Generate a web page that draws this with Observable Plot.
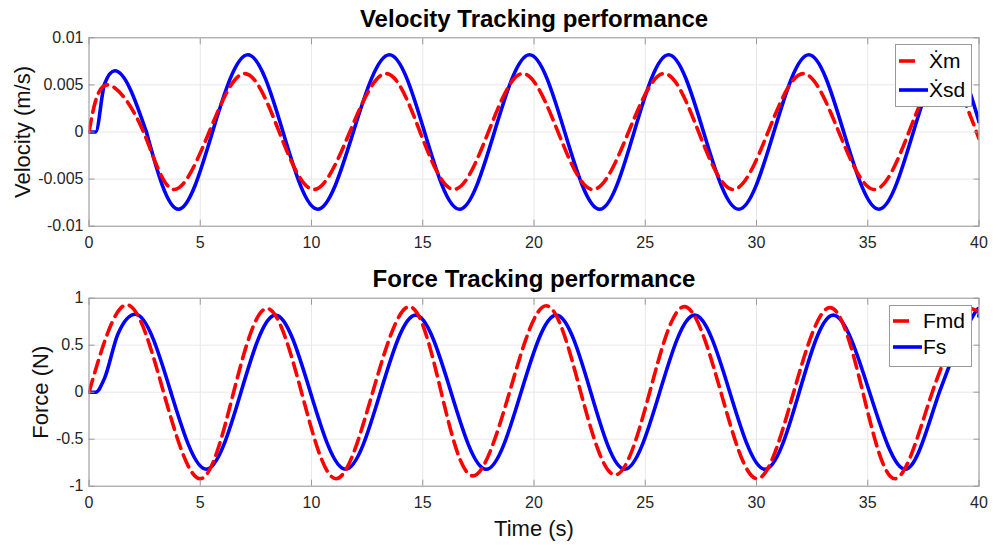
<!DOCTYPE html>
<html>
<head>
<meta charset="utf-8">
<script src="https://cdn.jsdelivr.net/npm/d3@7"></script>
<script src="https://cdn.jsdelivr.net/npm/@observablehq/plot@0.6"></script>
<style>
  body { margin: 0; background: #fff; font-family: "Liberation Sans", Arial, Helvetica, sans-serif; }
  #wrap { position: relative; width: 1003px; height: 545px; overflow: hidden; }
  #wrap svg { display: block; }
  g[aria-label="y-axis label"] text, g[aria-label="x-axis label"] text { font-size: 22px; fill: #111; }
  .legend { position: absolute; background: #fff; border: 1px solid #9a9a9a; box-sizing: border-box; }
  .legend .row { position: absolute; left: 0; width: 100%; height: 28px; }
  .legend .row svg { position: absolute; left: 0; top: 0; }
  .legend .row span { position: absolute; font-size: 21px; line-height: 28px; top: 0; color: #000; white-space: nowrap; }
</style>
</head>
<body>
<div id="wrap"></div>
<script>
// ---------- data ----------
const xTicks = [0, 5, 10, 15, 20, 25, 30, 35, 40];
const velTicks = [-0.01, -0.005, 0, 0.005, 0.01];
const forceTicks = [-1, -0.5, 0, 0.5, 1];

// Velocity: Xsd (blue, solid) — peaks, troughs and zero crossings
const xsdT = [0, 0.3, 0.7, 1.16, 2.58, 4.02, 5.55, 7.14, 8.72, 10.28, 11.88, 13.5, 15.08, 16.65, 18.22, 19.8, 21.38, 22.95, 24.5, 26.05, 27.62, 29.2, 30.78, 32.35, 33.92, 35.5, 37.05, 38.6, 40];
const xsdV = [0, 0, 0.0051, 0.0065, 0, -0.0082, 0, 0.0082, 0, -0.0082, 0, 0.0082, 0, -0.0082, 0, 0.0082, 0, -0.0082, 0, 0.0082, 0, -0.0082, 0, 0.0082, 0, -0.0082, 0, 0.0082, 0.0011];

// Velocity: Xm (red, dashed)
const xmT = [0, 0.4, 1.15, 2.45, 3.8, 5.4, 7.0, 8.55, 10.1, 11.72, 13.35, 14.88, 16.4, 17.95, 19.5, 21.08, 22.65, 24.25, 25.85, 27.4, 28.95, 30.52, 32.1, 33.7, 35.3, 36.85, 38.4, 40];
const xmV = [0, 0.004, 0.0047, 0, -0.0061, 0, 0.0062, 0, -0.0061, 0, 0.0062, 0, -0.0061, 0, 0.0062, 0, -0.0061, 0, 0.0062, 0, -0.0061, 0, 0.0062, 0, -0.0061, 0, 0.0062, -0.0007];

// Force: Fs (blue, solid)
const fsT = [0, 0.3, 0.7, 1.3, 2.08, 3.68, 5.27, 6.83, 8.38, 9.95, 11.53, 13.1, 14.68, 16.27, 17.85, 19.42, 21.0, 22.55, 24.08, 25.65, 27.22, 28.8, 30.38, 31.92, 33.45, 35.08, 36.7, 38.22, 39.75, 40];
const fsV = [0, 0, 0.15, 0.62, 0.83, 0, -0.82, 0, 0.82, 0, -0.82, 0, 0.82, 0, -0.82, 0, 0.82, 0, -0.82, 0, 0.82, 0, -0.82, 0, 0.82, 0, -0.82, 0, 0.82, 0.81];

// Force: Fmd (red, dashed)
const fmdT = [0, 1.7, 3.35, 5.0, 6.5, 8.0, 9.55, 11.1, 12.75, 14.4, 15.83, 17.25, 18.9, 20.55, 22.1, 23.65, 25.2, 26.75, 28.4, 30.03, 31.67, 33.3, 34.78, 36.25, 37.9, 39.55, 40];
const fmdV = [0, 0.93, 0, -0.92, 0, 0.89, 0, -0.92, 0, 0.91, 0, -0.89, 0, 0.92, 0, -0.88, 0, 0.91, 0, -0.92, 0, 0.9, 0, -0.92, 0, 0.9, 0.86];

// ---------- helpers ----------
// Split a series into a start piece (indices 0..headEnd), a smooth body and an end piece (tailStart..),
// so that flat starts / the last sample do not make the smooth spline overshoot.
function rows(ts, vs, headEnd, tailStart = ts.length - 1) {
  const out = [];
  ts.forEach((t, i) => {
    if (i <= headEnd) out.push({t, v: vs[i], seg: "head"});
    if (i >= headEnd && i <= tailStart) out.push({t, v: vs[i], seg: "body"});
    if (i >= tailStart) out.push({t, v: vs[i], seg: "tail"});
  });
  return out;
}

const BLUE = "#0000ff", RED = "#ff0000", FRAME = "#9a9a9a", GRID = "#e8e8e8";
const fmt = d => String(d);

function series(data, style) {
  return [
    Plot.line(data.filter(d => d.seg === "body"), {x: "t", y: "v", curve: "natural", clip: true, ...style}),
    Plot.line(data.filter(d => d.seg !== "body"), {x: "t", y: "v", z: "seg", curve: "monotone-x", clip: true, ...style})
  ];
}

function panel({height, marginTop, marginBottom, yDomain, yTicks, yLabel, yLabelOffset, title, blue, red, xLabel, xLabelOffset}) {
  return Plot.plot({
    width: 1003,
    height,
    marginLeft: 88.5,
    marginRight: 24.5,
    marginTop,
    marginBottom,
    style: {fontFamily: "'Liberation Sans', Arial, Helvetica, sans-serif", fontSize: "16px", color: "#262626", background: "#fff"},
    x: {domain: [0, 40]},
    y: {domain: yDomain},
    marks: [
      Plot.gridX(xTicks, {stroke: GRID, strokeOpacity: 1}),
      Plot.gridY(yTicks, {stroke: GRID, strokeOpacity: 1}),
      ...series(blue, {stroke: BLUE, strokeWidth: 3.6}),
      ...series(red, {stroke: RED, strokeWidth: 3.6, strokeDasharray: "13,7"}),
      Plot.frame({stroke: FRAME}),
      Plot.axisX(xTicks, {anchor: "bottom", tickSize: -6, tickPadding: 16, stroke: FRAME, fill: "#262626", tickFormat: fmt,
        label: xLabel ?? null, labelAnchor: "center", labelOffset: xLabelOffset, labelArrow: "none"}),
      Plot.axisX(xTicks, {anchor: "top", tickSize: -6, stroke: FRAME, tickFormat: () => "", label: null}),
      Plot.axisY(yTicks, {anchor: "left", tickSize: -6, tickPadding: 11.5, stroke: FRAME, fill: "#262626", tickFormat: fmt,
        label: yLabel, labelAnchor: "center", labelOffset: yLabelOffset, labelArrow: "none"}),
      Plot.axisY(yTicks, {anchor: "right", tickSize: -6, stroke: FRAME, tickFormat: () => "", label: null}),
      Plot.text([title], {frameAnchor: "top", dy: -11, lineAnchor: "bottom", fontSize: 24, fontWeight: "bold", fill: "#000"})
    ]
  });
}

const wrap = document.getElementById("wrap");

wrap.append(panel({
  height: 255, marginTop: 37.3, marginBottom: 29.3,
  yDomain: [-0.01, 0.01], yTicks: velTicks,
  yLabel: "Velocity (m/s)", yLabelOffset: 75,
  title: "Velocity Tracking performance",
  blue: rows(xsdT, xsdV, 4), red: rows(xmT, xmV, 0)
}));

wrap.append(panel({
  height: 290, marginTop: 42.7, marginBottom: 59.3,
  yDomain: [-1, 1], yTicks: forceTicks,
  yLabel: "Force (N)", yLabelOffset: 56.5,
  title: "Force Tracking performance",
  blue: rows(fsT, fsV, 5), red: rows(fmdT, fmdV, 0, fmdT.length - 2),
  xLabel: "Time (s)", xLabelOffset: 50
}));

// ---------- legends (HTML overlays) ----------
function legend({left, top, width, height, entries}) {
  const box = document.createElement("div");
  box.className = "legend";
  Object.assign(box.style, {left: left + "px", top: top + "px", width: width + "px", height: height + "px"});
  entries.forEach(e => {
    const row = document.createElement("div");
    row.className = "row";
    row.style.top = (e.cy - 14) + "px";
    const s = d3.create("svg").attr("width", 34).attr("height", 28);
    s.append("line").attr("x1", 3).attr("x2", 32).attr("y1", 14).attr("y2", 14)
      .attr("stroke", e.color).attr("stroke-width", 3.6)
      .attr("stroke-dasharray", e.dash ? "16,14" : null);
    row.append(s.node());
    const sp = document.createElement("span");
    sp.style.left = e.textLeft + "px";
    sp.textContent = e.label;
    row.append(sp);
    box.append(row);
  });
  wrap.append(box);
}

legend({left: 895, top: 44, width: 77, height: 63, entries: [
  {label: "Ẋm", color: RED, dash: true, cy: 16, textLeft: 33},
  {label: "Ẋsd", color: BLUE, dash: false, cy: 45, textLeft: 33}
]});
legend({left: 889, top: 305, width: 83, height: 62, entries: [
  {label: "Fmd", color: RED, dash: true, cy: 15, textLeft: 33},
  {label: "Fs", color: BLUE, dash: false, cy: 41, textLeft: 33}
]});
</script>
</body>
</html>
